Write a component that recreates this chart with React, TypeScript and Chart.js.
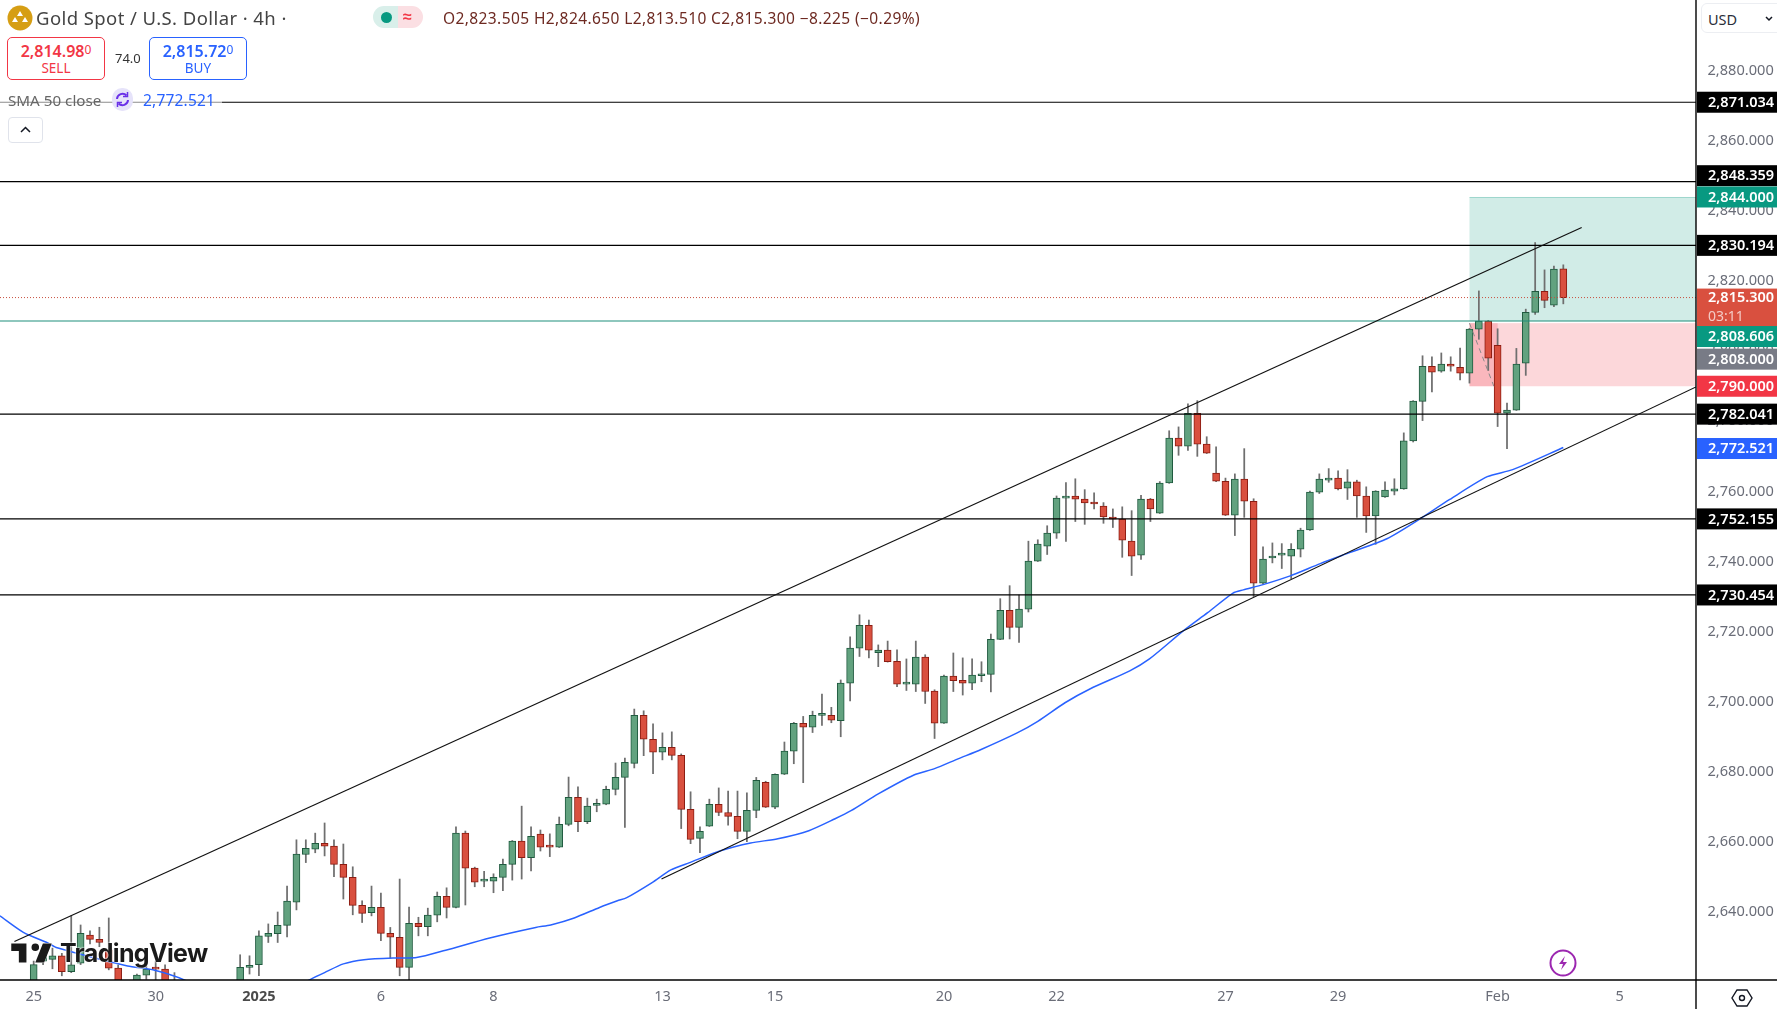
import React, { useEffect, useRef } from "react";
import { Chart, registerables } from "chart.js";

Chart.register(...registerables);

// Candles (4h), oldest first
const opens = [
  2616,2626,2626.5,2627.5,2623,2625.4,2633.4,2632.2,2629.2,2624,
  2616,2615,2622,2624.2,2623.7,2616,2613,2610,2612,2609,
  2613,2616,2618,2624.2,2625,2633,2633.8,2636.2,2642.8,2656.4,
  2657.9,2659.6,2658.8,2653.6,2649.9,2641.9,2639.8,2641.3,2633.9,2632.8,
  2624.2,2636.8,2635.8,2639.1,2644.5,2641.3,2662.5,2652.5,2648.8,2648.8,
  2649.9,2653.6,2660.2,2655.5,2662.2,2658.6,2658.5,2665,2672.7,2665.8,
  2670.4,2670.8,2675,2678.4,2682.4,2696.1,2689.3,2685.6,2687,2684.7,
  2669.3,2661,2664.5,2670.7,2668.4,2667.3,2663,2669,2677,2669.9,
  2679.3,2685.9,2693.8,2692.7,2696.1,2696.1,2694.6,2705.3,2715.3,2721.8,
  2714,2714.7,2711.5,2705,2705,2712.7,2703,2693.9,2707.3,2706.1,
  2705.3,2707.4,2707.8,2717.8,2726.1,2721.2,2726.4,2740.1,2744.4,2748.1,
  2758.1,2758.7,2757.8,2756.7,2755.8,2752.7,2752.1,2745.8,2741.8,2757.8,
  2753.8,2762.4,2775.2,2772.9,2782.3,2773.5,2765.2,2762.9,2753.2,2763.5,
  2757.2,2733.8,2741,2741.8,2741.5,2743.5,2749,2759.8,2763.2,2763.8,
  2760.9,2762.7,2758.7,2753,2758.4,2760.1,2760.7,2774.4,2785.7,2795.7,
  2794.3,2796.3,2795.4,2793.7,2806.3,2808.6,2801.7,2782.3,2783.2,2796.6,
  2811.1,2817.1,2813.1,2823.505,
];
const highs = [
  2626,2630,2629.7,2628.2,2638.9,2636.3,2634.6,2635.65,2638.3,2624.9,
  2618,2622.3,2624.9,2625.9,2624.9,2622.7,2615,2614,2615,2616,
  2618,2619.5,2627.8,2627.5,2634.6,2636.6,2640,2647.4,2660.6,2660.6,
  2662.5,2665.4,2660.6,2659.4,2652.9,2643.2,2647.4,2645.4,2635.6,2649.4,
  2641.4,2638.5,2641.1,2645.7,2646.9,2664.3,2663.1,2652.8,2651.6,2650.9,
  2655.1,2660.4,2670.2,2664.3,2663.4,2662.3,2667.1,2678.5,2675.7,2672.5,
  2672.2,2675.9,2682.5,2683.9,2697.9,2697.4,2693.7,2691.1,2691.4,2685.1,
  2674.3,2664.3,2672.2,2675.4,2674.5,2674.5,2674,2678.4,2677.3,2679.4,
  2688.5,2694.1,2695.8,2697.3,2702.2,2698.4,2706.2,2718.5,2724.8,2723.3,
  2716.2,2717.3,2714.8,2712.2,2717.3,2713.4,2703.4,2707.6,2713.9,2712.5,
  2712.2,2711.4,2719.3,2729.4,2733.1,2730.4,2745.8,2746.2,2750.2,2758.7,
  2762.5,2763.6,2760.5,2759.6,2756.8,2755,2755.6,2754.5,2758.9,2758,
  2762.8,2777.3,2778.4,2785,2785.9,2775.6,2772.7,2763.8,2765,2772.2,
  2757.9,2744.2,2745.3,2745.1,2745.1,2749.5,2760.1,2765,2766.5,2765.9,
  2766.2,2763.2,2761.3,2760.2,2762.7,2763.6,2776.7,2785.9,2798.7,2798.4,
  2799.5,2798.4,2800.9,2806.5,2817.2,2808.8,2806.4,2785.2,2800.8,2812,
  2831,2823.2,2824.3,2824.65,
];
const lows = [
  2614,2625,2623.8,2621.8,2622.7,2625,2630.9,2630.1,2623.5,2612,
  2610,2612,2620.8,2619,2614,2611,2608,2608,2607,2607,
  2611,2614,2616,2622.3,2621.8,2631.3,2631.3,2632.9,2640.6,2654.1,
  2656.9,2656,2650.1,2643.7,2639.2,2637,2638.9,2631.8,2626.8,2621.8,
  2619,2633.2,2633.2,2637.2,2638.3,2641.2,2642,2647.2,2647.2,2645.5,
  2646.1,2649.1,2649.4,2651.7,2657.4,2655.8,2658.4,2664.6,2662.9,2665.2,
  2668.6,2670.6,2673.4,2664.1,2681.1,2684.6,2679.5,2683.4,2683.4,2663.8,
  2659.5,2656.9,2664.4,2667.5,2664.8,2660.9,2660.1,2666.9,2669.8,2669.5,
  2679.2,2682.3,2676.9,2691.2,2693.2,2694,2690,2700.2,2712.9,2712.5,
  2710,2711.3,2704.3,2703.2,2702.9,2699.5,2689.5,2693.8,2702.9,2701.9,
  2703.4,2705.7,2702.8,2717.7,2717.9,2716.9,2725.6,2740,2742,2746.6,
  2745.7,2751.4,2750.6,2755,2750.9,2749.7,2741.2,2736,2740.6,2751.4,
  2753.7,2762.3,2770.3,2771.7,2770,2770.8,2762.8,2753.1,2747.4,2752.6,
  2730,2733.7,2739.6,2738,2735.1,2741.3,2748.9,2759.4,2762.6,2760.4,
  2757.7,2752.6,2748.3,2744.9,2758.3,2759,2760.6,2774.1,2780.2,2788.4,
  2794,2794.3,2791.8,2790.9,2803.4,2794.5,2778.5,2772.2,2783.1,2793.1,
  2810.5,2812.4,2812.7,2813.51,
];
const closes = [
  2625,2628,2627.5,2623,2624.9,2633.9,2632.2,2631.3,2624,2616,
  2613,2622,2623.7,2623.7,2616,2613,2610,2612,2609,2613,
  2616,2618,2624.2,2624.4,2633.2,2633.9,2636.2,2643.1,2656.5,2658.2,
  2659.6,2658.8,2653.6,2649.9,2641.9,2639.6,2641.3,2633.9,2632.8,2624.2,
  2636.8,2635.8,2639.1,2644.5,2641.3,2662.5,2652.5,2648.5,2648.8,2649.9,
  2653.6,2660.2,2655.5,2661.6,2658.5,2658.5,2665,2672.7,2665.8,2670.2,
  2671,2675,2678.4,2682.7,2696.1,2689.3,2685.6,2687,2684.7,2669.3,
  2660.7,2663,2670.7,2668.4,2667.3,2663,2669,2677.6,2669.9,2679.3,
  2685.9,2693.8,2692.7,2696.1,2696.1,2694.7,2705.3,2715.3,2721.8,2714.7,
  2714.7,2711.4,2705,2705,2712.7,2702.9,2693.9,2707.3,2706,2705.3,
  2707.6,2707.8,2717.8,2726.1,2721.2,2726.4,2740.1,2745,2748.1,2758.1,
  2758.4,2757.8,2756.7,2756.4,2752.7,2752.1,2746.1,2741.5,2757.8,2755,
  2762.4,2775.2,2772.9,2782.3,2773.5,2770.9,2762.9,2753.2,2763.5,2757.2,
  2733.8,2740.7,2741.5,2741.8,2743.5,2749,2759.8,2763.5,2763.8,2760.7,
  2762.7,2758.7,2753,2760.1,2760.4,2760.7,2774.4,2785.8,2795.7,2794,
  2796.3,2795.7,2793.7,2806.3,2808.6,2798,2782.3,2783.2,2796.3,2811.1,
  2817.1,2814.5,2823.4,2815.3,
];

// SMA 50, read at bar positions along the line
const smaBars = [
  -3.6,-1.1,1.5,2.5,10,12.7,16.4,22,26,29.1,31,33,35.2,38.4,40.8,43.9,48.6,53.5,55.1,57.6,60.3,62.2,63.2,65.9,67.9,69.9,
  73.2,76.4,79.3,82.6,85.4,87.1,90,93.8,96,98.5,100.9,104.8,107,109.9,112.6,116.8,118.9,122.5,125.1,127.8,128.9,131,
  133.9,137.1,140.3,144.2,147.4,150.9,154.9,157.6,163,
];
const smaValues = [
  2638.9,2634.2,2631.2,2629.8,2624.6,2623.5,2620.2,2612,2614,2620.2,2622.7,2625.2,2626.4,2626.9,2627,2629.1,2632.6,2635.6,2636.3,2638.3,2641.3,2643.2,2644.1,2648.4,2652,2654.1,
  2657.5,2659.7,2660.9,2663.2,2666.6,2668.9,2673.7,2679.1,2680.9,2683.7,2686.3,2691.1,2694.4,2699.7,2703.7,2708.8,2712.2,2720.2,2725.4,2731,2731.9,2733.4,
  2735.9,2739.4,2742.6,2746.5,2751.6,2757.7,2764.2,2766.2,2772.521,
];

// Horizontal levels and channel
const levelPrices = [2871.034, 2848.359, 2830.194, 2782.041, 2752.155, 2730.454];
const entryLevel = 2808.606;
const lastPrice = 2815.3;
const upperChannelBars = [-2.05, 164.96];
const upperChannelPrices = [2631.6, 2835.3];
const lowerChannelBars = [66.9, 177.14];
const lowerChannelPrices = [2649.4, 2789.8];

// Long position tool
const targetPrice = 2844;
const stopTop = 2808;
const stopPrice = 2790;
const toolStartBar = 153;
const toolInnerEndBar = 156;
const dashBars = [153, 155.6];
const dashPrices = [2808, 2790];

// Axes
const priceTicks = [2640,2660,2680,2700,2720,2740,2760,2780,2800,2820,2840,2860,2880];
const timeTickBars = [0, 13, 24, 37, 49, 67, 79, 97, 109, 127, 139, 156, 169];
const timeTickLabels = ["25", "30", "2025", "6", "8", "13", "15", "20", "22", "27", "29", "Feb", "5"];

// Price tags on the axis
const tagPrices = [2871.034, 2848.359, 2844, 2830.194, 2815.3, 2808.606, 2808, 2790, 2782.041, 2772.521, 2752.155, 2730.454];
const tagTexts = ["2,871.034", "2,848.359", "2,844.000", "2,830.194", "2,815.300", "2,808.606", "2,808.000", "2,790.000", "2,782.041", "2,772.521", "2,752.155", "2,730.454"];
const tagColors = ["#000000", "#000000", "#089981", "#000000", "#d9503f", "#089981", "#787b86", "#f23645", "#000000", "#2962ff", "#000000", "#000000"];
const tagShifts = [0, -6, 0, 0, 0, 15.5, 36, 0, 0, 1, 0, 0];

const FONT = '"Noto Sans", sans-serif';
const W = 1777;
const H = 1009;
const X_MIN = -3.59;
const X_MAX = 177.14;
const Y_MIN = 2620.6;
const Y_MAX = 2900.2;

const GREEN = "#62a27f";
const GREEN_EDGE = "#1f5a3f";
const RED = "#d9503f";
const RED_EDGE = "#8b1c12";

const money = (v: number) => v.toLocaleString("en-US", { minimumFractionDigits: 3, maximumFractionDigits: 3 });
const hLine = (p: number) => [{ x: X_MIN, y: p }, { x: X_MAX, y: p }];
const noPadding = (s: any) => {
  s.paddingTop = 0;
  s.paddingBottom = 0;
  s.paddingLeft = 0;
  s.paddingRight = 0;
};

const decorPlugin = {
  id: "decor",
  beforeDatasetsDraw(chart: any) {
    const { ctx, scales } = chart;
    const x = scales.x;
    const y = scales.y;
    const left = x.getPixelForValue(toolStartBar);
    const right = x.right;
    ctx.save();
    ctx.fillStyle = "rgba(8,153,129,0.19)";
    ctx.fillRect(left, y.getPixelForValue(targetPrice), right - left, y.getPixelForValue(entryLevel) - y.getPixelForValue(targetPrice));
    ctx.fillStyle = "rgba(8,153,129,0.25)";
    ctx.fillRect(left, y.getPixelForValue(targetPrice), right - left, 1);
    ctx.fillStyle = "rgba(242,54,69,0.2)";
    ctx.fillRect(left, y.getPixelForValue(stopTop), right - left, y.getPixelForValue(stopPrice) - y.getPixelForValue(stopTop));
    ctx.fillRect(left, y.getPixelForValue(stopTop), x.getPixelForValue(toolInnerEndBar) - left, y.getPixelForValue(stopPrice) - y.getPixelForValue(stopTop));
    ctx.restore();
  },
  afterDraw(chart: any) {
    const { ctx, scales } = chart;
    const y = scales.y;
    const xAxis = chart.chartArea.right;
    const yAxis = chart.chartArea.bottom;
    ctx.save();
    ctx.strokeStyle = "#000";
    ctx.lineWidth = 1.4;
    ctx.beginPath();
    ctx.moveTo(xAxis, 0);
    ctx.lineTo(xAxis, H);
    ctx.moveTo(0, yAxis);
    ctx.lineTo(W, yAxis);
    ctx.stroke();

    ctx.textBaseline = "middle";
    ctx.textAlign = "left";
    tagPrices.forEach((p, i) => {
      const cy = y.getPixelForValue(p) + tagShifts[i];
      const isLast = p === lastPrice;
      const top = isLast ? cy - 9 : cy - 10.5;
      const h = isLast ? 39 : 21;
      ctx.fillStyle = tagColors[i];
      ctx.fillRect(xAxis + 1, top, W - xAxis - 1, h);
      ctx.fillStyle = "#fff";
      ctx.font = `600 14.5px ${FONT}`;
      ctx.fillText(tagTexts[i], 1708, cy + 0.5);
      if (isLast) {
        ctx.fillStyle = "rgba(255,255,255,0.7)";
        ctx.font = `400 14px ${FONT}`;
        ctx.fillText("03:11", 1708, cy + 19);
      }
    });
    ctx.restore();
  },
};

const box: React.CSSProperties = { position: "absolute", whiteSpace: "nowrap", fontFamily: FONT };

function TradeBox({ left, color, main, sub, label }: { left: number; color: string; main: string; sub: string; label: string }) {
  return (
    <div style={{ ...box, left, top: 37, width: 98, height: 43, boxSizing: "border-box", border: `1px solid ${color}`, borderRadius: 5, color, textAlign: "center", background: "#fff" }}>
      <div style={{ fontSize: 16, fontWeight: 600, lineHeight: "18px", marginTop: 3 }}>
        {main}
        <span style={{ fontSize: 12, fontWeight: 400, verticalAlign: 3 }}>{sub}</span>
      </div>
      <div style={{ fontSize: 13.5, lineHeight: "16px" }}>{label}</div>
    </div>
  );
}

export default function App() {
  const ref = useRef<HTMLCanvasElement | null>(null);

  useEffect(() => {
    if (!ref.current) return;
    const bars = opens.map((_, i) => i);
    const up = (i: number) => closes[i] >= opens[i];
    const chart = new Chart(ref.current, {
      type: "bar",
      plugins: [decorPlugin],
      data: {
        datasets: [
          {
            type: "bar",
            label: "Wicks",
            order: 6,
            data: bars.map((i) => ({ x: i, y: [lows[i], highs[i]] })),
            backgroundColor: "#6f6f6f",
            borderWidth: 0,
            barThickness: 1.1,
            grouped: false,
            clip: 0,
          },
          {
            type: "bar",
            label: "Bodies",
            order: 5,
            data: bars.map((i) => ({ x: i, y: [opens[i], closes[i]] })),
            backgroundColor: bars.map((i) => (up(i) ? GREEN : RED)),
            borderColor: bars.map((i) => (up(i) ? GREEN_EDGE : RED_EDGE)),
            borderWidth: 1,
            borderSkipped: false,
            barThickness: 7,
            minBarLength: 2,
            grouped: false,
            clip: 0,
          },
          {
            type: "line",
            label: "SMA 50 close",
            order: 4,
            data: smaBars.map((b, i) => ({ x: b, y: smaValues[i] })),
            borderColor: "#2962ff",
            borderWidth: 1.5,
            pointRadius: 0,
            tension: 0.25,
          },
          {
            type: "line",
            label: "Stop path",
            order: 4,
            data: dashBars.map((b, i) => ({ x: b, y: dashPrices[i] })),
            borderColor: "#8a8a8a",
            borderWidth: 1,
            borderDash: [5, 4],
            pointRadius: 0,
          },
          {
            type: "line",
            label: "Last price",
            order: 3,
            data: hLine(lastPrice),
            borderColor: "#c8503f",
            borderWidth: 1,
            borderDash: [1, 2],
            pointRadius: 0,
          },
          {
            type: "line",
            label: "Entry",
            order: 3,
            data: hLine(entryLevel),
            borderColor: "#1f8f7d",
            borderWidth: 1.1,
            pointRadius: 0,
          },
          ...levelPrices.map((p) => ({
            type: "line" as const,
            label: `Level ${p}`,
            order: 2,
            data: hLine(p),
            borderColor: "#000",
            borderWidth: 1.2,
            pointRadius: 0,
          })),
          {
            type: "line",
            label: "Upper channel",
            order: 1,
            data: upperChannelBars.map((b, i) => ({ x: b, y: upperChannelPrices[i] })),
            borderColor: "#111",
            borderWidth: 1.2,
            pointRadius: 0,
          },
          {
            type: "line",
            label: "Lower channel",
            order: 1,
            data: lowerChannelBars.map((b, i) => ({ x: b, y: lowerChannelPrices[i] })),
            borderColor: "#111",
            borderWidth: 1.2,
            pointRadius: 0,
          },
        ] as any,
      },
      options: {
        responsive: false,
        animation: false,
        devicePixelRatio: 1,
        layout: { padding: 0, autoPadding: false },
        plugins: { legend: { display: false }, tooltip: { enabled: false } },
        scales: {
          x: {
            type: "linear",
            min: X_MIN,
            max: X_MAX,
            offset: false,
            grid: { display: false, drawTicks: false },
            border: { display: false },
            afterBuildTicks: (s: any) => {
              s.ticks = timeTickBars.map((v) => ({ value: v }));
            },
            afterFit: (s: any) => {
              s.height = H - 980;
              noPadding(s);
            },
            ticks: {
              autoSkip: false,
              maxRotation: 0,
              padding: 8,
              color: (c: any) => (c.tick?.value === 24 ? "#4a4a4a" : "#6a6d78"),
              font: (c: any) => ({ family: FONT, size: 14.5, weight: c.tick?.value === 24 ? "bold" : "normal" }),
              callback: (v: any) => {
                const k = timeTickBars.indexOf(Number(v));
                return k >= 0 ? timeTickLabels[k] : "";
              },
            },
          },
          y: {
            type: "linear",
            position: "right",
            min: Y_MIN,
            max: Y_MAX,
            grid: { display: false, drawTicks: false },
            border: { display: false },
            afterBuildTicks: (s: any) => {
              s.ticks = priceTicks.map((v) => ({ value: v }));
            },
            afterFit: (s: any) => {
              s.width = W - 1696;
              noPadding(s);
            },
            ticks: {
              autoSkip: false,
              padding: 11.5,
              color: "#6a6d78",
              font: { family: FONT, size: 14.6 },
              callback: (v: any) => money(Number(v)),
            },
          },
        },
      } as any,
    });
    return () => chart.destroy();
  }, []);

  return (
    <div style={{ position: "absolute", left: 0, top: 0, width: W, height: H, overflow: "hidden", background: "#fff" }}>
      <canvas ref={ref} width={W} height={H} style={{ position: "absolute", left: 0, top: 0, width: W, height: H }} />

      {/* Symbol row */}
      <svg style={{ position: "absolute", left: 7, top: 5 }} width="26" height="26" viewBox="0 0 26 26">
        <circle cx="13" cy="13" r="12.5" fill="#d69e14" />
        <path d="M13 6l3 5h-6zM8 12l3 5H5zM18 12l3 5h-6z" fill="#fff" />
      </svg>
      <div style={{ ...box, left: 36, top: 5, fontSize: 18.5, lineHeight: "26px", letterSpacing: 0.42, color: "#444" }}>Gold Spot / U.S. Dollar · 4h ·</div>
      <div style={{ position: "absolute", left: 373, top: 6, width: 25, height: 22, background: "#d9efea", borderRadius: "11px 0 0 11px" }} />
      <div style={{ position: "absolute", left: 398, top: 6, width: 25, height: 22, background: "#fbdfe3", borderRadius: "0 11px 11px 0" }} />
      <div style={{ position: "absolute", left: 381, top: 12, width: 11, height: 11, borderRadius: 6, background: "#089981" }} />
      <div style={{ ...box, left: 403, top: 5, fontSize: 16, lineHeight: "22px", fontWeight: 700, color: "#f23645" }}>≈</div>
      <div style={{ ...box, left: 443, top: 7, fontSize: 15.5, lineHeight: "22px", letterSpacing: 0.4, color: "#6e2a22" }}>
        O2,823.505 H2,824.650 L2,813.510 C2,815.300 −8.225 (−0.29%)
      </div>

      {/* Trade boxes */}
      <TradeBox left={7} color="#f23645" main="2,814.98" sub="0" label="SELL" />
      <div style={{ ...box, left: 115, top: 49, fontSize: 13, lineHeight: "18px", color: "#333" }}>74.0</div>
      <TradeBox left={149} color="#2962ff" main="2,815.72" sub="0" label="BUY" />

      {/* Indicator row */}
      <div style={{ position: "absolute", left: 0, top: 89, width: 222, height: 22, background: "rgba(255,255,255,0.55)" }} />
      <div style={{ ...box, left: 8, top: 89, fontSize: 15.2, lineHeight: "22px", color: "#666" }}>SMA 50 close</div>
      <svg style={{ position: "absolute", left: 112, top: 88 }} width="21" height="23" viewBox="0 0 21 23">
        <rect x="0" y="0" width="21" height="23" rx="10" fill="#e6e3fa" />
        <path d="M5 11a5.5 5.5 0 0 1 9.5-3.5M16 12a5.5 5.5 0 0 1-9.5 3.5" fill="none" stroke="#6a30e8" strokeWidth="2" />
        <path d="M15.5 4v4.5H11M5.500 19v-4.500H10" fill="none" stroke="#6a30e8" strokeWidth="1.500" />
      </svg>
      <div style={{ ...box, left: 143, top: 89, fontSize: 15.5, lineHeight: "22px", letterSpacing: 0.2, color: "#2962ff" }}>2,772.521</div>

      {/* Collapse button */}
      <div style={{ position: "absolute", left: 8, top: 117, width: 35, height: 26, boxSizing: "border-box", border: "1px solid #e0e3eb", borderRadius: 4, background: "#fff" }}>
        <svg width="33" height="24" viewBox="0 0 33 24">
          <path d="M12 14l4.500-4.500L21 14" fill="none" stroke="#131722" strokeWidth="1.500" />
        </svg>
      </div>

      {/* Currency control */}
      <div style={{ position: "absolute", left: 1701, top: 3, width: 90, height: 30, boxSizing: "border-box", border: "1px solid #eceef2", borderRadius: 6, background: "#fff" }} />
      <div style={{ ...box, left: 1708, top: 8, fontSize: 14.5, lineHeight: "22px", color: "#2a2e39" }}>USD</div>
      <svg style={{ position: "absolute", left: 1764, top: 15 }} width="10" height="8" viewBox="0 0 10 8">
        <path d="M2 2l3 3 3-3" fill="none" stroke="#131722" strokeWidth="1.500" />
      </svg>

      {/* Logo */}
      <svg style={{ position: "absolute", left: 10, top: 941 }} width="43" height="24" viewBox="1 5 34 17">
        <path d="M14 6H2v6h6v9h6V6zm14 15h-7l6-15h7l-6 15zm-7-9a3 3 0 1 0 0-6 3 3 0 0 0 0 6z" fill="#1a1a1a" stroke="#fff" strokeWidth="0.6" paintOrder="stroke" />
      </svg>
      <div style={{ ...box, left: 60, top: 936, fontFamily: 'Inter, "Noto Sans", sans-serif', fontSize: 25, fontWeight: 700, lineHeight: "34px", letterSpacing: -0.65, color: "#1a1a1a", textShadow: "0 0 2px #fff, 0 0 2px #fff" }}>TradingView</div>

      {/* Bolt and settings */}
      <svg style={{ position: "absolute", left: 1549, top: 949 }} width="28" height="28" viewBox="0 0 28 28">
        <circle cx="14" cy="14" r="12.5" fill="#fff" stroke="#9c27b0" strokeWidth="2" />
        <path d="M16 7l-6 8h4l-2 6 6-8h-4z" fill="#9c27b0" />
      </svg>
      <svg style={{ position: "absolute", left: 1731, top: 988 }} width="22" height="20" viewBox="0 0 22 20">
        <path d="M6 2h10l5 8-5 8H6l-5-8z" fill="none" stroke="#131722" strokeWidth="1.400" />
        <circle cx="11" cy="10" r="2.500" fill="none" stroke="#131722" strokeWidth="1.400" />
      </svg>
    </div>
  );
}
